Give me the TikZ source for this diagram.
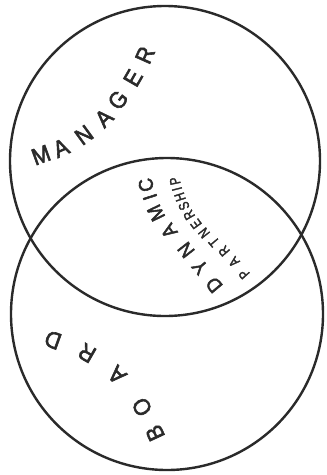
\documentclass[tikz,border=0pt]{standalone}
\usepackage{fontspec}
\setmainfont{Liberation Sans}
\newfontfamily\handfont[FakeBold=2.4,FakeStretch=0.92]{Liberation Sans}
\newfontfamily\narrowfont[FakeStretch=0.78,FakeBold=2.2]{Liberation Sans}
\definecolor{ink}{HTML}{2A2A2A}
\begin{document}
\begin{tikzpicture}[x=1pt,y=-1pt,
  ring/.style={circle, draw=ink, line width=2.4pt, inner sep=0pt, minimum size=#1},
  letter/.style={inner sep=0pt, text=ink, anchor=center},
  bigl/.style={letter, font=\handfont\fontsize{23.5}{23.5}\selectfont},
  midl/.style={letter, font=\handfont\fontsize{20}{20}\selectfont},
  smalll/.style={letter, font=\narrowfont\fontsize{14.5}{14.5}\selectfont},
]
\useasboundingbox[fill=white] (0,0) rectangle (327,475);
\node[ring=310pt] (manager) at (165,161) {};
\node[ring=312pt] (board) at (167,314) {};

% MANAGER
\foreach \c/\x/\y/\a [count=\i] in
  {M/41/155/20, A/61/148/24, N/84/135/36, A/104/118/44, G/118/100/52, E/133/78/60, R/145/55/66}
  \node[bigl, rotate=\a] (mgr\i) at (\x,\y) {\c};

% DYNAMIC
\foreach \c/\x/\y/\a [count=\i] in
  {D/214/285/130, Y/200/267/130, N/186/250/128, A/169/231/124, M/156/213/116, I/150/197/108, C/146/185/102}
  \node[midl, rotate=\a] (dyn\i) at (\x,\y) {\c};

% PARTNERSHIP
\foreach \c/\x/\y/\a [count=\i] in
  {P/244/274/132, A/234/262/132, R/224/251/131, T/214/242/130, N/204/233/129, E/196/224/126,
   R/189/215/120, S/184/206/114, H/180/197/108, I/177/189/104, P/175/181/102}
  \node[smalll, rotate=\a] (prt\i) at (\x,\y) {\c};

% BOARD
\foreach \c/\x/\y/\a [count=\i] in
  {B/155/433/115, O/142/407/122, A/117/375/135, R/87/353/150, D/53/340/160}
  \node[bigl, rotate=\a] (brd\i) at (\x,\y) {\c};
\end{tikzpicture}
\end{document}
